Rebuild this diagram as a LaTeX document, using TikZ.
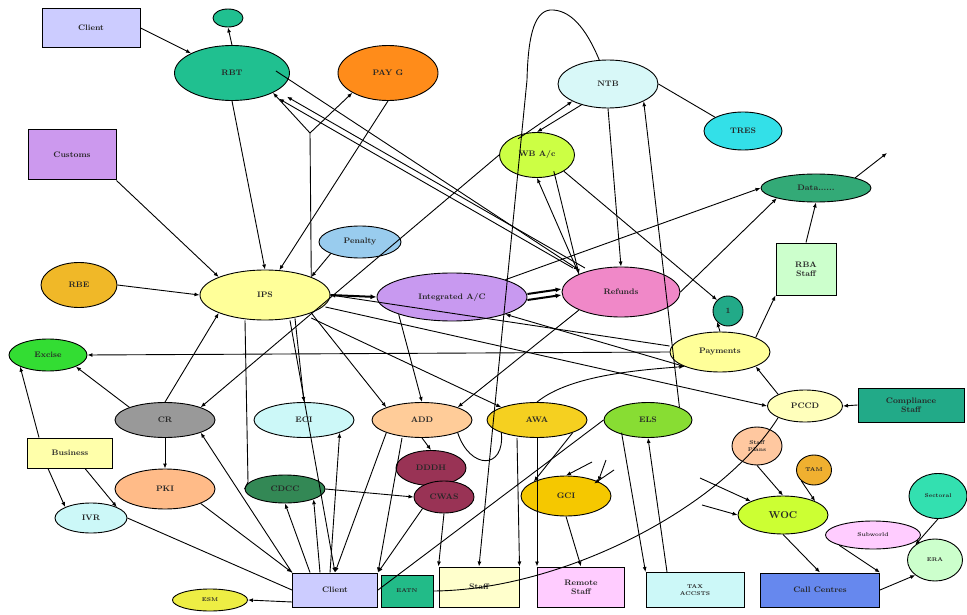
\documentclass[tikz,border=0pt]{standalone}
\usetikzlibrary{shapes.geometric,arrows.meta}
\begin{document}
\begin{tikzpicture}[x=1pt,y=-1pt,
  every node/.style={font=\fontsize{8}{9}\selectfont\bfseries, text=black!85},
  ell/.style={ellipse, draw, line width=0.9pt, inner sep=0pt},
  box/.style={rectangle, draw, line width=1pt, inner sep=1pt, align=center},
  ln/.style={line width=0.9pt},
  arr/.style={line width=0.9pt, -{Latex[length=5pt,width=4pt]}},
  thickarr/.style={line width=2pt, -{Latex[length=6pt,width=5pt]}}]
\definecolor{clientc}{HTML}{CCCCFF}
\definecolor{rbtc}{HTML}{20C090}
\definecolor{paygc}{HTML}{FF8C1A}
\definecolor{ntbc}{HTML}{D8F8F8}
\definecolor{tresc}{HTML}{33E0E8}
\definecolor{customsc}{HTML}{CC99EE}
\definecolor{wbc}{HTML}{CCFF44}
\definecolor{datac}{HTML}{33AA77}
\definecolor{penc}{HTML}{99CCEE}
\definecolor{rbec}{HTML}{F0B828}
\definecolor{ltyel}{HTML}{FFFF99}
\definecolor{intc}{HTML}{C899F0}
\definecolor{refc}{HTML}{F088C8}
\definecolor{ltgrn}{HTML}{CCFFCC}
\definecolor{tealc}{HTML}{22AA88}
\definecolor{excc}{HTML}{33DD33}
\definecolor{greyc}{HTML}{999999}
\definecolor{ltcyan}{HTML}{CCF8F8}
\definecolor{peach}{HTML}{FFCC99}
\definecolor{awac}{HTML}{F5D020}
\definecolor{elsc}{HTML}{88DD33}
\definecolor{pccdc}{HTML}{FFFFBB}
\definecolor{busc}{HTML}{FFFFAA}
\definecolor{maroonc}{HTML}{993355}
\definecolor{pkic}{HTML}{FFBB88}
\definecolor{dkgrn}{HTML}{338855}
\definecolor{gcic}{HTML}{F5C800}
\definecolor{spc}{HTML}{FFC8A0}
\definecolor{tamc}{HTML}{F0B030}
\definecolor{wocc}{HTML}{CCFF33}
\definecolor{secc}{HTML}{33E0B0}
\definecolor{ltpink}{HTML}{FFCCFF}
\definecolor{esmc}{HTML}{EEEE44}
\definecolor{eatnc}{HTML}{22BB88}
\definecolor{staffc}{HTML}{FFFFCC}
\definecolor{callc}{HTML}{6688EE}

\fill[white] (0,0) rectangle (967,615);
\useasboundingbox (0,0) rectangle (967,615);

% ---- nodes ----
\node[box, fill=clientc, minimum width=98, minimum height=39] (clienta) at (91,28) {Client};
\node[ell, fill=rbtc, minimum width=30, minimum height=18] (rbtx) at (228,18) {};
\node[ell, fill=rbtc, minimum width=115, minimum height=55] (rbt) at (232,73) {RBT};
\node[ell, fill=paygc, minimum width=100, minimum height=55] (payg) at (388,73) {PAY G};
\node[ell, fill=ntbc, minimum width=100, minimum height=48] (ntb) at (608,84) {NTB};
\node[ell, fill=tresc, minimum width=78, minimum height=38] (tres) at (743,131) {TRES};
\node[box, fill=customsc, minimum width=88, minimum height=50] (customs) at (72,155) {Customs};
\node[ell, fill=wbc, minimum width=75, minimum height=45] (wb) at (537,155) {WB A/c};
\node[ell, fill=datac, minimum width=110, minimum height=28] (data) at (816,188) {Data......};
\node[ell, fill=penc, minimum width=82, minimum height=32] (penalty) at (360,242) {Penalty};
\node[ell, fill=rbec, minimum width=76, minimum height=45] (rbe) at (79,285) {RBE};
\node[ell, fill=ltyel, minimum width=130, minimum height=50] (ips) at (265,295) {IPS};
\node[ell, fill=intc, minimum width=150, minimum height=48] (intac) at (452,297) {Integrated A/C};
\node[ell, fill=refc, minimum width=118, minimum height=50] (refunds) at (621,292) {Refunds};
\node[box, fill=ltgrn, minimum width=60, minimum height=52] (rba) at (806,269) {RBA\\Staff};
\node[ell, fill=tealc, minimum width=30, minimum height=30] (one) at (728,311) {1};
\node[ell, fill=excc, minimum width=78, minimum height=32] (excise) at (48,355) {Excise};
\node[ell, fill=ltyel, minimum width=100, minimum height=40] (payments) at (720,352) {Payments};
\node[ell, fill=greyc, minimum width=100, minimum height=35] (cr) at (165,420) {CR};
\node[ell, fill=ltcyan, minimum width=100, minimum height=35] (eci) at (304,420) {ECI};
\node[ell, fill=peach, minimum width=100, minimum height=35] (add) at (422,420) {ADD};
\node[ell, fill=awac, minimum width=100, minimum height=35] (awa) at (537,420) {AWA};
\node[ell, fill=elsc, minimum width=88, minimum height=35] (els) at (648,420) {ELS};
\node[ell, fill=pccdc, minimum width=75, minimum height=32] (pccd) at (805,406) {PCCD};
\node[box, fill=tealc, minimum width=106, minimum height=34] (comp) at (911,405) {Compliance\\Staff};
\node[box, fill=busc, minimum width=85, minimum height=30] (business) at (70,453) {Business};
\node[ell, fill=maroonc, minimum width=70, minimum height=35] (dddh) at (431,468) {DDDH};
\node[ell, fill=pkic, minimum width=100, minimum height=40] (pki) at (165,489) {PKI};
\node[ell, fill=dkgrn, minimum width=80, minimum height=28] (cdcc) at (285,489) {CDCC};
\node[ell, fill=maroonc, minimum width=60, minimum height=32] (cwas) at (444,497) {CWAS};
\node[ell, fill=gcic, minimum width=90, minimum height=40] (gci) at (566,496) {GCI};
\node[ell, fill=spc, minimum width=50, minimum height=38, align=center, font=\fontsize{5.5}{6.5}\selectfont\bfseries] (splans) at (757,446) {Staff\\Plans};
\node[ell, fill=tamc, minimum width=35, minimum height=30, font=\fontsize{5.5}{6.5}\selectfont\bfseries] (tam) at (814,470) {TAM};
\node[ell, fill=wocc, minimum width=90, minimum height=38, font=\fontsize{10}{11}\selectfont\bfseries] (woc) at (783,515) {WOC};
\node[ell, fill=secc, minimum width=58, minimum height=45, font=\fontsize{5.5}{6.5}\selectfont\bfseries] (sectoral) at (938,496) {Sectoral};
\node[ell, fill=ltpink, minimum width=95, minimum height=28, font=\fontsize{5.5}{6.5}\selectfont\bfseries] (subworld) at (873,535) {Subworld};
\node[ell, fill=ltcyan, minimum width=72, minimum height=30] (ivr) at (91,518) {IVR};
\node[ell, fill=ltgrn, minimum width=55, minimum height=42, font=\fontsize{5.5}{6.5}\selectfont\bfseries] (era) at (935,560) {ERA};
\node[box, fill=clientc, minimum width=85, minimum height=34] (clientb) at (335,590) {Client};
\node[ell, fill=esmc, minimum width=75, minimum height=22, font=\fontsize{5.5}{6.5}\selectfont\bfseries] (esm) at (210,600) {ESM};
\node[box, fill=eatnc, minimum width=52, minimum height=32, font=\fontsize{5.5}{6.5}\selectfont\bfseries] (eatn) at (407,591) {EATN};
\node[box, fill=staffc, minimum width=80, minimum height=40] (staff) at (479,587) {Staff};
\node[box, fill=ltpink, minimum width=87, minimum height=40] (remote) at (581,587) {Remote\\Staff};
\node[box, fill=ltcyan, minimum width=98, minimum height=35, font=\fontsize{5.5}{6.5}\selectfont\bfseries] (tax) at (695,590) {TAX\\ACCSTS};
\node[box, fill=callc, minimum width=119, minimum height=34] (callcn) at (820,590) {Call Centres};

% ---- free ends and junctions ----
\coordinate (fork) at (310,133);
\coordinate (dataout) at (887,153);
\coordinate (g1) at (592,462);
\coordinate (g2) at (606,460);
\coordinate (g3) at (614,470);
\coordinate (w1) at (700,478);
\coordinate (w2) at (702,505);
\coordinate (cdbend) at (248,482);

% ---- connectors ----
\draw[arr] (clienta.east) -- (rbt.north west);
\draw[arr] (rbt.north) -- (rbtx.south);
\draw[arr] (rbt.south) -- (ips.north);
\draw[ln] (ips.north east) -- (fork);
\draw[arr] (fork) -- (rbt.south east);
\draw[arr] (fork) -- (payg.south west);
\draw[arr] (payg.south) -- (ips.60);
\draw[arr] (customs.south east) -- (ips.north west);
\draw[arr] (rbe.east) -- (ips.west);
\draw[arr] (payments.west) -- (excise.east);
\draw[arr] (business.north west) ++(12,0) -- (excise.south west);
\draw[arr] (business.south) ++(-22,0) -- (ivr.north west);
\draw[arr] (business.south) ++(15,0) -- (ivr.north east);
\draw[arr] (cr.north west) -- (excise.south east);
\draw[arr] (cr.north) -- (ips.south west);
\draw[arr] (cr.south) -- (pki.north);
\draw[ln] (ivr.east) -- (clientb.west);
\draw[arr] (pki.south east) -- (clientb.north west);
\draw[arr] (clientb.north west) -- (cr.south east);
\draw[arr] (clientb.north) ++(-25,0) -- (cdcc.south);
\draw[arr] (clientb.north) ++(-15,0) -- (cdcc.south east);
\draw[arr] (clientb.west) ++(0,12) -- (esm.east);
\draw[arr] (clientb.north) ++(-5,0) -- (eci.south east);
\draw[arr] (ips.south) ++(30,-2) -- (eci.north);
\draw[ln] (ips.south) ++(-20,0) -- (cdbend) -- (cdcc.west);
\draw[arr] (cdcc.east) -- (cwas.west);
\draw[arr] (ips.south east) -- (add.north west);
\draw[arr] (ips.south) ++(25,0) -- (clientb.north);
\draw[thickarr] (ips.east) -- (intac.west);
\draw[thickarr] ([yshift=-3pt]intac.east) -- ([yshift=-3pt]refunds.west);
\draw[thickarr] ([yshift=3pt]intac.east) -- ([yshift=3pt]refunds.west);
\draw[arr] (penalty.south west) -- (ips.north east);
\draw[arr] (refunds.south west) -- (add.north east);
\draw[arr] (intac.south west) -- (add.north);
\draw[arr] (ips.east) ++(-5,12) -- (pccd.west);
\draw[arr] (payments.west) ++(0,-6) -- (ips.east);
\draw[arr] (intac.north east) -- (data.west);
\draw[arr] (refunds.east) -- (data.south west);
\draw[arr] (rba.north) -- (data.south);
\draw[arr] (payments.north east) -- (rba.south west);
\draw[arr] (payments.north) -- (one.south west);
\draw[arr] (wb.south east) -- (one.north west);
\draw[ln] (ntb.east) -- (tres.north west);
\draw[arr] (wb.north west) ++(8,0) -- (ntb.south west);
\draw[arr] (ntb.south west) ++(10,3) -- (wb.north);
\draw[arr] (ntb.south) -- (refunds.north);
\draw[arr] (els.north east) -- (ntb.south east);
\draw[arr] (refunds.north west) -- (wb.south);
\draw[arr] (wb.south east) ++(-10,0) -- (refunds.north west);
% long loop from NTB over the top and down to Staff
\draw[arr] (ntb.110) .. controls (586,28) and (570,9) .. (550,10)
  .. controls (533,12) and (528,40) .. (527,80) -- (staff.north);
\draw[arr] ([shift={(-6,-6)}]refunds.north west) -- ([shift={(6,6)}]rbt.south east);
\draw[arr] ([shift={(-14,-2)}]rbt.east) -- ([shift={(0,-4)}]refunds.north west);
\draw[arr] ([shift={(6,-6)}]refunds.north west) -- ([shift={(14,4)}]rbt.south east);
\draw[arr] (add.south) ++(-20,0) -- (clientb.north east);
\draw[arr] (add.south west) -- (clientb.north);
\draw[arr] (add.south) -- (dddh.north);
\draw[ln] (add.south east) .. controls (470,470) and (505,470) .. (awa.south west);
\draw[arr] (awa.south) ++(-20,0) -- (staff.north east);
\draw[arr] (awa.south) -- (remote.north west);
\draw[arr] (awa.south east) -- (gci.north west);
\draw[arr] (gci.south) -- (remote.north);
\draw[arr] (g1) -- (gci.north);
\draw[arr] (g2) -- (gci.north east);
\draw[arr] (g3) -- ([shift={(-4,2)}]gci.north east);
\draw[arr] (cwas.south) -- (staff.north west);
\draw[arr] (cwas.south west) -- (clientb.north east);
\draw[ln] (eatn.east) .. controls (560,590) and (720,510) .. (pccd.south west);
\draw[ln] (els.west) -- (clientb.east);
\draw[arr] (els.south west) ++(5,0) -- (tax.north west);
\draw[arr] (tax.north) ++(-28,0) -- (els.south);
\draw[arr] (pccd.north west) -- (payments.south east);
\draw[arr] (comp.west) -- (pccd.east);
\draw[arr] (awa.north) .. controls (570,375) and (640,370) .. (payments.south west);
\draw[arr] (splans.south) -- (woc.north);
\draw[arr] (tam.south west) -- (woc.north east);
\draw[arr] (w1) -- (woc.north west);
\draw[arr] (w2) -- (woc.west);
\draw[arr] (woc.south) -- (callcn.north);
\draw[arr] (subworld.south west) -- (callcn.north east);
\draw[arr] (sectoral.south) -- (era.north west);
\draw[arr] (callcn.east) -- (era.south west);
\draw[arr] (data.north east) -- (dataout);
\draw[arr] (payments.south west) -- (intac.south east);
\draw[arr] (ips.south east) ++(0,5) -- (awa.north west);
\draw[arr] (wb.west) -- (cr.north east);
\end{tikzpicture}
\end{document}
